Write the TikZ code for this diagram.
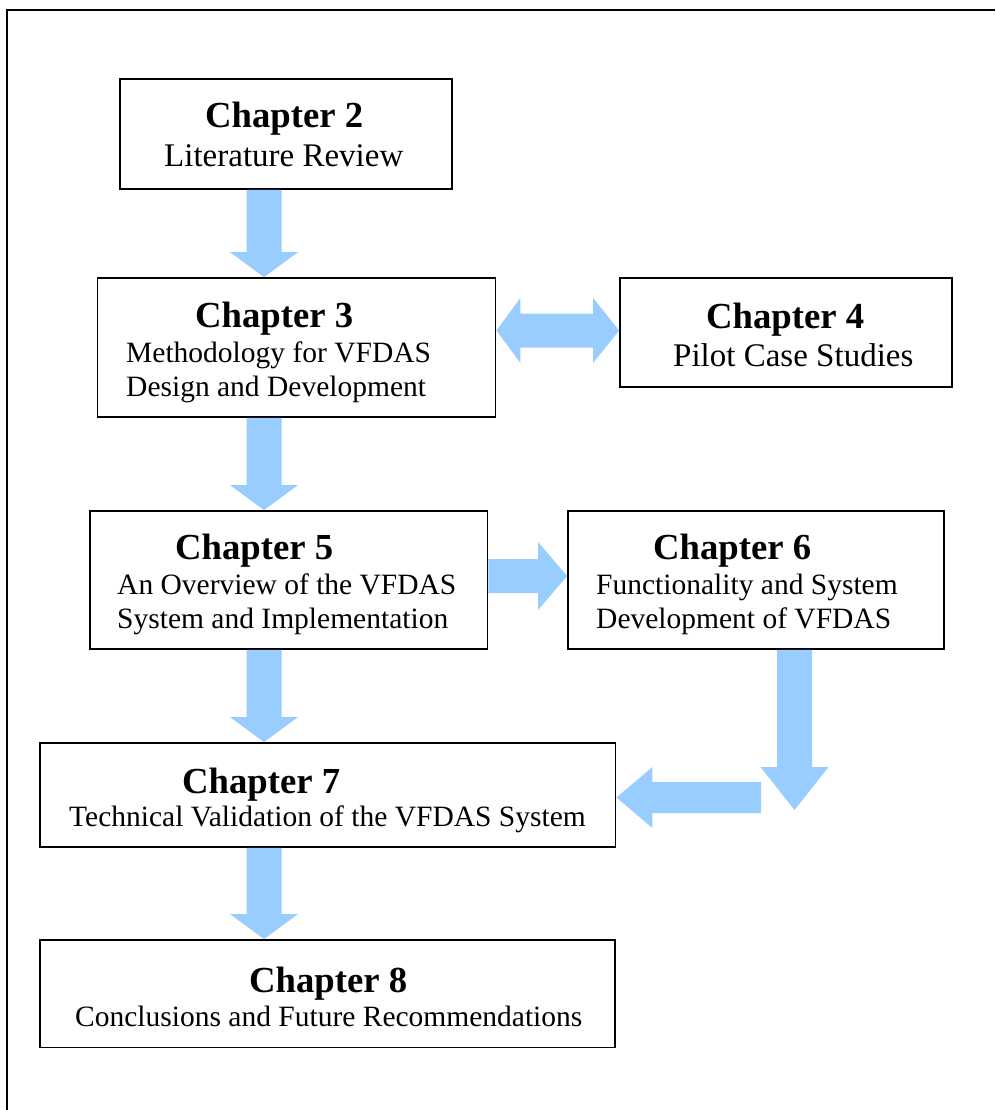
\documentclass[tikz,border=0pt]{standalone}
\usepackage{fontspec}
\setmainfont{Liberation Serif}
\usetikzlibrary{calc}
\definecolor{arrowblue}{RGB}{153,204,255}
\tikzset{
  box/.style={draw, line width=1.8pt, rectangle, inner sep=0pt},
  hd/.style={anchor=base west, inner sep=0pt, font=\fontsize{36.7}{40}\selectfont\bfseries},
  tx/.style={anchor=base west, inner sep=0pt, font=\fontsize{29.5}{33}\selectfont},
  tl/.style={anchor=base west, inner sep=0pt, font=\fontsize{33}{37}\selectfont},
  arrowfill/.style={fill=arrowblue},
}
% vertical block arrow: #1 start anchor, #2 end anchor, #3 x centre, #4 shaft half, #5 head half, #6 head length
\newcommand{\vblock}[6]{%
  \fill[arrowfill] let \p1=(#1), \p2=(#2) in
    (#3pt-#4pt,\y1) -- (#3pt+#4pt,\y1) -- (#3pt+#4pt,\y2+#6pt) -- (#3pt+#5pt,\y2+#6pt)
    -- (#3pt,\y2) -- (#3pt-#5pt,\y2+#6pt) -- (#3pt-#4pt,\y2+#6pt) -- cycle;}
% horizontal block arrow: #1 start, #2 tip, #3 y centre (picture), #4 shaft half, #5 head half, #6 head length (signed)
\newcommand{\hblock}[6]{%
  \fill[arrowfill] let \p1=(#1), \p2=(#2) in
    (\x1,-#3pt+#4pt) -- (\x2-#6pt,-#3pt+#4pt) -- (\x2-#6pt,-#3pt+#5pt) -- (\x2,-#3pt)
    -- (\x2-#6pt,-#3pt-#5pt) -- (\x2-#6pt,-#3pt-#4pt) -- (\x1,-#3pt-#4pt) -- cycle;}
\begin{document}
\begin{tikzpicture}[x=1pt,y=-1pt]
\useasboundingbox (0,0) rectangle (995,1110);
% outer frame (open on right and bottom)
\draw[line width=2pt] (7,1110) -- (7,10) -- (995,10);

% boxes
\node[box, minimum width=332pt, minimum height=110pt] (c2) at (286,134) {};
\node[box, minimum width=398pt, minimum height=139pt] (c3) at (296.5,347.5) {};
\node[box, minimum width=332pt, minimum height=109pt] (c4) at (786,332.5) {};
\node[box, minimum width=397.5pt, minimum height=138pt] (c5) at (288.75,580) {};
\node[box, minimum width=376pt, minimum height=138pt] (c6) at (756,580) {};
\node[box, minimum width=575.5pt, minimum height=104pt] (c7) at (327.75,795) {};
\node[box, minimum width=575pt, minimum height=107.5pt] (c8) at (327.5,993.75) {};

% texts
\node[hd] (t2a) at (205,128) {Chapter 2};
\node[tl] (t2b) at (164,167) {Literature Review};
\node[hd] (t3a) at (195,327) {Chapter 3};
\node[tx] (t3b) at (126,362) {Methodology for VFDAS};
\node[tx] (t3c) at (126,396) {Design and Development};
\node[hd] (t4a) at (706,328) {Chapter 4};
\node[tl] (t4b) at (673,366) {Pilot Case Studies};
\node[hd] (t5a) at (175,559) {Chapter 5};
\node[tx] (t5b) at (117,594) {An Overview of the VFDAS};
\node[tx] (t5c) at (117,628) {System and Implementation};
\node[hd] (t6a) at (653,559) {Chapter 6};
\node[tx] (t6b) at (596,594) {Functionality and System};
\node[tx] (t6c) at (596,628) {Development of VFDAS};
\node[hd] (t7a) at (182,793) {Chapter 7};
\node[tx] (t7b) at (69,826) {Technical Validation of the VFDAS System};
\node[hd] (t8a) at (249,992) {Chapter 8};
\node[tx] (t8b) at (75,1026) {Conclusions and Future Recommendations};

% block arrows
\vblock{c2.south}{c3.north}{264}{17.5}{34}{25}
\vblock{c3.south}{c5.north}{264}{17.5}{34}{25}
\vblock{c5.south}{c7.north}{264}{17.5}{34}{25}
\vblock{c7.south}{c8.north}{264}{17.5}{34}{25}
\hblock{c5.east}{c6.west}{576}{17}{34}{29}
% double arrow between chapter 3 and chapter 4
\coordinate (mid34) at (556,330.5);
\hblock{mid34}{c4.west}{330.5}{17}{32.5}{26}
\hblock{mid34}{c3.east}{330.5}{17}{32.5}{-24}
% from chapter 6 down and left into chapter 7
\coordinate (d6) at (795,810);
\coordinate (bend) at (761,797.5);
\vblock{c6.south}{d6}{794.5}{17.5}{34}{43}
\hblock{bend}{c7.east}{797.5}{15.5}{30.5}{-36}
\end{tikzpicture}
\end{document}
